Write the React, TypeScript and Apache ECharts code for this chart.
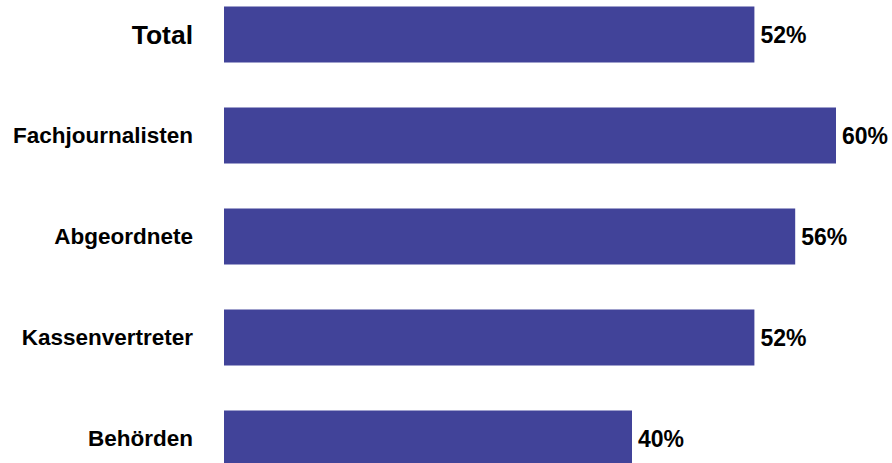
import React, { useEffect, useRef } from "react";
import * as echarts from "echarts";

const categories = ["Total", "Fachjournalisten", "Abgeordnete", "Kassenvertreter", "Behörden"];
const values = [52, 60, 56, 52, 40];

export default function App() {
  const ref = useRef<HTMLDivElement>(null);
  useEffect(() => {
    if (!ref.current) return;
    document.body.style.margin = "0";
    document.body.style.overflow = "hidden";
    const chart = echarts.init(ref.current, null, { renderer: "svg" });
    const font = "'Liberation Sans', Arial, Helvetica, sans-serif";
    chart.setOption({
      animation: false,
      grid: { left: 224, width: 612, top: 0, height: 505 },
      xAxis: { type: "value", min: 0, max: 60, show: false },
      yAxis: {
        type: "category",
        inverse: true,
        data: categories.map((c, i) =>
          i === 0 ? { value: c, textStyle: { fontSize: 26.5 } } : c
        ),
        axisLine: { show: false },
        axisTick: { show: false },
        axisLabel: {
          margin: 31,
          color: "#000",
          fontFamily: font,
          fontWeight: "bold",
          fontSize: 22.5,
        },
        splitLine: { show: false },
      },
      series: [
        {
          type: "bar",
          data: values,
          barWidth: 56,
          itemStyle: { color: "#414399" },
          label: {
            show: true,
            position: "right",
            distance: 6,
            formatter: "{c}%",
            color: "#000",
            fontFamily: font,
            fontWeight: "bold",
            fontSize: 23,
          },
        },
      ],
    });
    return () => chart.dispose();
  }, []);
  return (
    <div
      ref={ref}
      style={{ position: "fixed", left: 0, top: -16, width: 892, height: 505, background: "#fff" }}
    />
  );
}
